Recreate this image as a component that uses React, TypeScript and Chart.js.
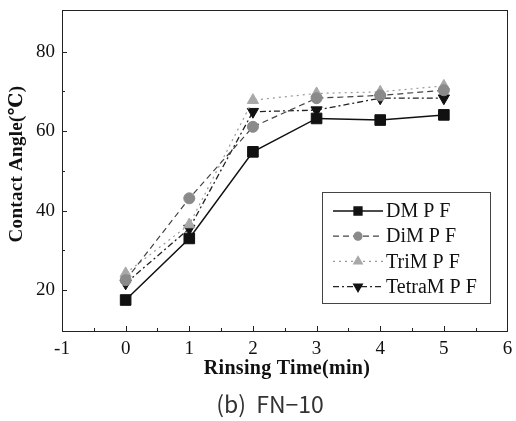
import { useEffect, useRef } from "react";
import { Chart, registerables } from "chart.js";
import { drawPoint } from "chart.js/helpers";

Chart.register(...registerables);

const rinsingTimes = [0, 1, 2, 3, 4, 5];
const dmPF = [17.5, 33.0, 54.8, 63.2, 62.8, 64.1];
const dimPF = [22.5, 43.1, 61.1, 68.3, 69.0, 70.3];
const trimPF = [24.2, 36.5, 67.8, 69.5, 69.9, 71.4];
const tetramPF = [21.7, 35.5, 64.9, 65.3, 68.3, 68.3];
const seriesNames = ["DM P F", "DiM P F", "TriM P F", "TetraM P F"];
const yTickValues = [20, 40, 60, 80];
const xTickValues = [-1, 0, 1, 2, 3, 4, 5, 6];
const xAxisTitle = "Rinsing Time(min)";
const yAxisTitle = "Contact Angle(\u2103)";
const caption = "(b)  FN\u221210";

const SERIF = "'Liberation Serif', 'DejaVu Serif', serif";

type Style = {
  color: string;
  fill: string;
  dash: number[];
  width: number;
  pointStyle: string;
  rotation: number;
  radius: number;
  legendRadius: number;
};

const styles: Style[] = [
  { color: "#111", fill: "#111", dash: [], width: 1.5, pointStyle: "rect", rotation: 0, radius: 7.5, legendRadius: 5.5 },
  { color: "#444", fill: "#8a8a8a", dash: [6, 4], width: 1.2, pointStyle: "circle", rotation: 0, radius: 5.5, legendRadius: 4 },
  { color: "#9a9a9a", fill: "#a8a8a8", dash: [2, 4], width: 1.2, pointStyle: "triangle", rotation: 0, radius: 6.5, legendRadius: 5 },
  { color: "#222", fill: "#111", dash: [6, 3, 2, 3], width: 1.3, pointStyle: "triangle", rotation: 180, radius: 6.5, legendRadius: 5 },
];

const seriesValues = [dmPF, dimPF, trimPF, tetramPF];

const framePlugin = {
  id: "framePlugin",
  afterDraw(chart: any) {
    const { ctx, chartArea: a, scales } = chart;
    const x = scales.x;
    const y = scales.y;
    ctx.save();
    // frame
    ctx.strokeStyle = "#222";
    ctx.lineWidth = 1;
    ctx.setLineDash([]);
    ctx.strokeRect(Math.round(a.left) + 0.5, Math.round(a.top) + 0.5, Math.round(a.right - a.left) - 1, Math.round(a.bottom - a.top));
    // inward ticks
    ctx.beginPath();
    for (let i = -1; i <= 11; i++) {
      const v = i / 2;
      const px = Math.round(x.getPixelForValue(v)) + 0.5;
      const len = i % 2 === 0 ? 5 : 3;
      ctx.moveTo(px, a.bottom);
      ctx.lineTo(px, a.bottom - len);
    }
    for (let v = 20; v <= 80; v += 10) {
      const py = Math.round(y.getPixelForValue(v)) + 0.5;
      const len = v % 20 === 0 ? 5 : 3;
      ctx.moveTo(a.left, py);
      ctx.lineTo(a.left + len, py);
    }
    ctx.stroke();

    // x tick labels
    ctx.fillStyle = "#111";
    ctx.textAlign = "center";
    ctx.textBaseline = "middle";
    ctx.font = `19px ${SERIF}`;
    xTickValues.forEach((v) => {
      ctx.fillText(String(v), x.getPixelForValue(v), a.bottom + 18);
    });

    // axis titles
    ctx.font = `bold 20px ${SERIF}`;
    (ctx as any).letterSpacing = "0.3px";
    ctx.fillText(xAxisTitle, 287, 369);
    ctx.save();
    ctx.translate(17, 164);
    ctx.rotate(-Math.PI / 2);
    ctx.font = `bold 19px ${SERIF}`;
    ctx.fillText(yAxisTitle, 0, 0);
    ctx.restore();
    (ctx as any).letterSpacing = "0px";

    // caption
    ctx.fillStyle = "#333";
    ctx.font = "23px 'Noto Sans CJK KR', 'DejaVu Sans', sans-serif";
    ctx.fillText(caption, 270, 404);

    // legend
    const bx = 322, by = 192, bw = 168, bh = 111;
    ctx.fillStyle = "#fff";
    ctx.fillRect(bx, by, bw, bh);
    ctx.strokeStyle = "#444";
    ctx.lineWidth = 1;
    ctx.strokeRect(bx + 0.5, by + 0.5, bw, bh);
    ctx.font = `20px ${SERIF}`;
    ctx.textAlign = "left";
    chart.data.datasets.forEach((ds: any, i: number) => {
      const st = styles[i];
      const cy = 211 + i * 25.2;
      ctx.strokeStyle = st.color;
      ctx.lineWidth = st.width;
      ctx.setLineDash(st.dash);
      ctx.beginPath();
      ctx.moveTo(333, cy);
      ctx.lineTo(383, cy);
      ctx.stroke();
      ctx.setLineDash([]);
      ctx.fillStyle = st.fill;
      ctx.strokeStyle = st.fill;
      drawPoint(ctx, { pointStyle: st.pointStyle as any, rotation: st.rotation, radius: st.legendRadius, borderWidth: 1 }, 358, cy);
      ctx.fillStyle = "#111";
      ctx.fillText(ds.label, 386, cy + 1);
    });
    ctx.restore();
  },
};

export default function App() {
  const ref = useRef<HTMLCanvasElement | null>(null);
  useEffect(() => {
    if (!ref.current) return;
    const datasets = seriesValues.map((vals, i) => {
      const st = styles[i];
      return {
        label: seriesNames[i],
        data: rinsingTimes.map((t, j) => ({ x: t, y: vals[j] })),
        showLine: true,
        borderColor: st.color,
        borderWidth: st.width,
        borderDash: st.dash,
        backgroundColor: st.fill,
        pointBackgroundColor: st.fill,
        pointBorderColor: st.fill,
        pointBorderWidth: 1,
        pointStyle: st.pointStyle,
        pointRotation: st.rotation,
        pointRadius: st.radius,
        tension: 0,
      };
    });
    const chart = new Chart(ref.current, {
      type: "scatter",
      data: { datasets: datasets as any },
      options: {
        animation: false,
        responsive: false,
        maintainAspectRatio: false,
        layout: { padding: { left: 0, right: 4, top: 10, bottom: 0 } },
        plugins: { legend: { display: false }, tooltip: { enabled: false }, title: { display: false } },
        scales: {
          x: {
            type: "linear",
            min: -1,
            max: 6,
            ticks: { display: false, stepSize: 1 },
            grid: { display: false, drawTicks: false },
            border: { display: false },
            afterFit: (s: any) => { s.height = 90; s.paddingLeft = 0; s.paddingRight = 0; },
          },
          y: {
            type: "linear",
            min: 9.7,
            max: 90.5,
            afterBuildTicks: (s: any) => { s.ticks = yTickValues.map((v) => ({ value: v })); },
            ticks: { padding: 7, color: "#111", font: { family: SERIF, size: 19 } },
            grid: { display: false, drawTicks: false },
            border: { display: false },
            afterFit: (s: any) => { s.width = 62; s.paddingTop = 0; s.paddingBottom = 0; },
          },
        },
      },
      plugins: [framePlugin],
    });
    return () => chart.destroy();
  }, []);
  return (
    <div style={{ position: "fixed", left: 0, top: 0, width: 516, height: 421, background: "#fff" }}>
      <canvas ref={ref} width={516} height={421} style={{ display: "block" }} />
    </div>
  );
}
